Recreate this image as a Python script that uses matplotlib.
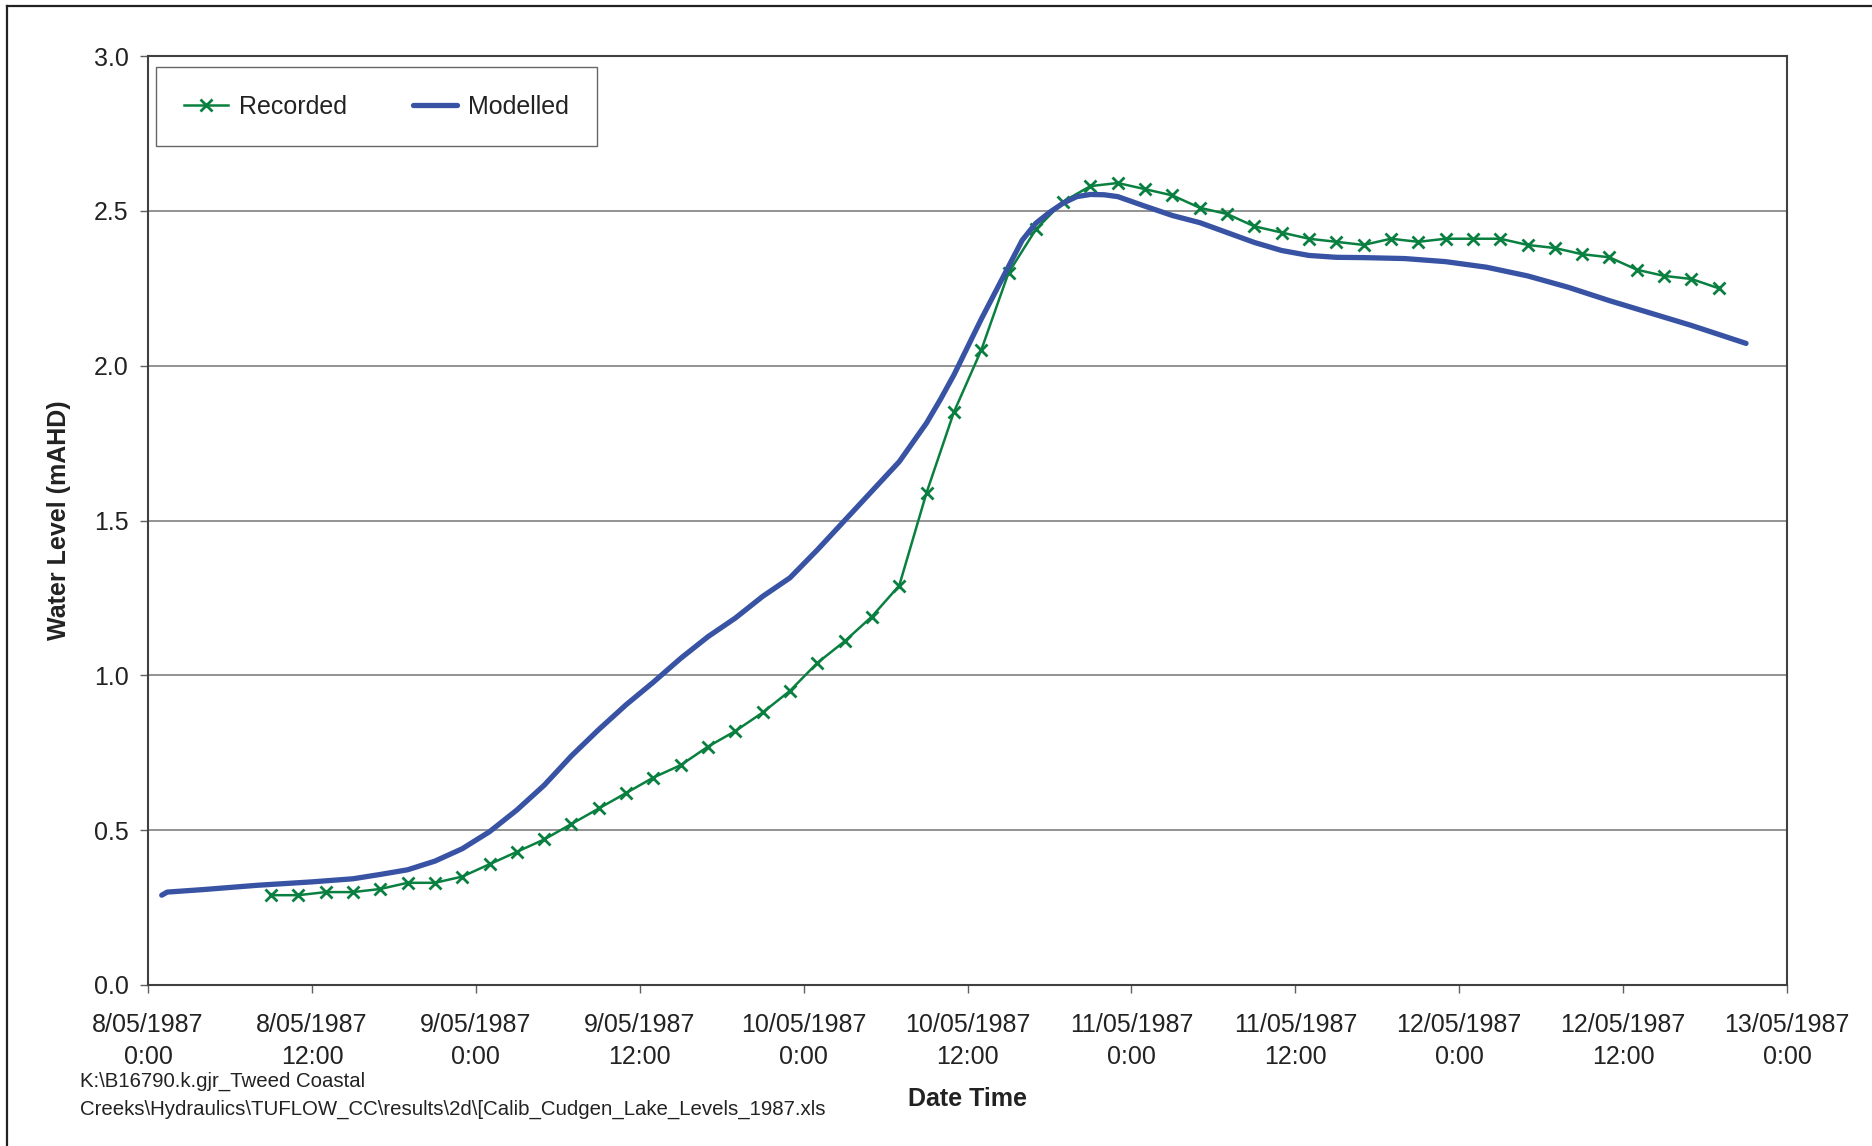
import matplotlib
matplotlib.use("Agg")
import matplotlib.pyplot as plt
import matplotlib.dates as mdates
from matplotlib.lines import Line2D
from matplotlib.ticker import FuncFormatter, MultipleLocator
import pandas as pd

plt.rcParams['font.family'] = ['Liberation Sans', 'DejaVu Sans']

START = pd.Timestamp("1987-05-08 00:00")

# recorded lake levels, 2-hourly from 8/05/1987 9:00
recorded_first = "1987-05-08 09:00"
recorded_level = [
    0.29, 0.29, 0.30, 0.30, 0.31, 0.33, 0.33, 0.35, 0.39, 0.43,
    0.47, 0.52, 0.57, 0.62, 0.67, 0.71, 0.77, 0.82, 0.88, 0.95,
    1.04, 1.11, 1.19, 1.29, 1.59, 1.85, 2.05, 2.30, 2.44, 2.53,
    2.58, 2.59, 2.57, 2.55, 2.51, 2.49, 2.45, 2.43, 2.41, 2.40,
    2.39, 2.41, 2.40, 2.41, 2.41, 2.41, 2.39, 2.38, 2.36, 2.35,
    2.31, 2.29, 2.28, 2.25,
]

# TUFLOW modelled levels, hours after 8/05/1987 0:00
model_hours = [
    1.0, 1.4, 4, 8, 12, 15, 17, 19, 21, 23, 25, 27, 29, 31, 33, 35, 37, 39,
    41, 43, 45, 47, 49, 51, 53, 55, 57, 58, 59, 60, 61, 62, 63, 64, 65, 66,
    67, 68, 69, 70, 71, 73, 75, 77, 79, 81, 83, 85, 87, 89, 92, 95, 98, 101,
    104, 107, 110, 113, 117,
]
model_level = [
    0.29, 0.30, 0.308, 0.322, 0.333, 0.343, 0.357, 0.372, 0.40, 0.44,
    0.495, 0.565, 0.645, 0.74, 0.825, 0.905, 0.978, 1.055, 1.125, 1.185,
    1.255, 1.315, 1.405, 1.50, 1.595, 1.69, 1.815, 1.89, 1.97, 2.06,
    2.15, 2.235, 2.32, 2.405, 2.46, 2.495, 2.525, 2.546, 2.553, 2.552,
    2.546, 2.515, 2.485, 2.462, 2.43, 2.398, 2.372, 2.356, 2.35, 2.349,
    2.346, 2.336, 2.318, 2.29, 2.253, 2.21, 2.17, 2.13, 2.072,
]

x_start = "1987-05-08 00:00"
x_end = "1987-05-13 00:00"
source_file = ("K:\\B16790.k.gjr_Tweed Coastal\n"
               "Creeks\\Hydraulics\\TUFLOW_CC\\results\\2d\\[Calib_Cudgen_Lake_Levels_1987.xls")

GREEN = "#0a8040"
BLUE = "#3953a4"

rec_time = pd.date_range(recorded_first, periods=len(recorded_level), freq="2h")
mod_time = START + pd.to_timedelta(model_hours, unit="h")

fig = plt.figure(figsize=(18.72, 11.46), dpi=100)
ax = fig.add_axes([0.0791, 0.1405, 0.8755, 0.8106])

ax.plot(rec_time, recorded_level, color=GREEN, lw=1.8, marker="x",
        markersize=8, markeredgewidth=2.0, label="Recorded", zorder=3)
ax.plot(mod_time, model_level, color=BLUE, lw=3.8, label="Modelled",
        solid_capstyle="round", solid_joinstyle="round", zorder=4)

ax.set_xlim(pd.Timestamp(x_start), pd.Timestamp(x_end))
ax.set_ylim(0, 3.0)
ax.yaxis.set_major_locator(MultipleLocator(0.5))
ax.yaxis.set_major_formatter(FuncFormatter(lambda v, p: f"{v:.1f}"))
ax.xaxis.set_major_locator(mdates.HourLocator(byhour=[0, 12]))


def fmt_date(v, pos):
    d = mdates.num2date(v)
    return f"{d.day}/{d.month:02d}/{d.year}\n{d.hour}:{d.minute:02d}"


ax.xaxis.set_major_formatter(FuncFormatter(fmt_date))

ax.grid(axis="y", color="#808080", lw=1.2)
ax.set_axisbelow(True)
for s in ax.spines.values():
    s.set_color("#404040")
    s.set_linewidth(1.5)

ax.tick_params(axis="x", direction="out", length=6, width=1, color="#606060",
               pad=14.5, labelsize=18, labelcolor="#222222")
ax.tick_params(axis="y", direction="out", length=6, width=1, color="#606060",
               pad=8, labelsize=18, labelcolor="#222222")
for lbl in ax.get_xticklabels():
    lbl.set_linespacing(1.38)

ax.set_xlabel("Date Time", fontsize=18, fontweight="bold", color="#222222")
ax.xaxis.set_label_coords(0.5, -0.123)
ax.xaxis.label.set_verticalalignment("center")
ax.set_ylabel("Water Level (mAHD)", fontsize=18, fontweight="bold", color="#222222")
ax.yaxis.set_label_coords(-0.0545, 0.5)
ax.yaxis.label.set_verticalalignment("center")

leg = ax.legend(loc="upper left", bbox_to_anchor=(0.0051, 0.988), ncol=2,
                fontsize=18, frameon=True, fancybox=False, borderpad=1.1,
                handlelength=1.75, handletextpad=0.45, columnspacing=2.65,
                borderaxespad=0)
leg.get_frame().set_edgecolor("#404040")
leg.get_frame().set_linewidth(1.0)
for t in leg.get_texts():
    t.set_color("#222222")

fig.text(0.0427, 0.0443, source_file, fontsize=14.7, color="#222222",
         va="center", ha="left", linespacing=1.54)

# frame along the top and left edges of the page
fig.add_artist(Line2D([7 / 1872, 1], [1 - 6 / 1146, 1 - 6 / 1146],
                      transform=fig.transFigure, color="#222222", lw=1.6))
fig.add_artist(Line2D([7 / 1872, 7 / 1872], [0, 1 - 6 / 1146],
                      transform=fig.transFigure, color="#222222", lw=1.6))

fig.savefig("out.png", dpi=100)
